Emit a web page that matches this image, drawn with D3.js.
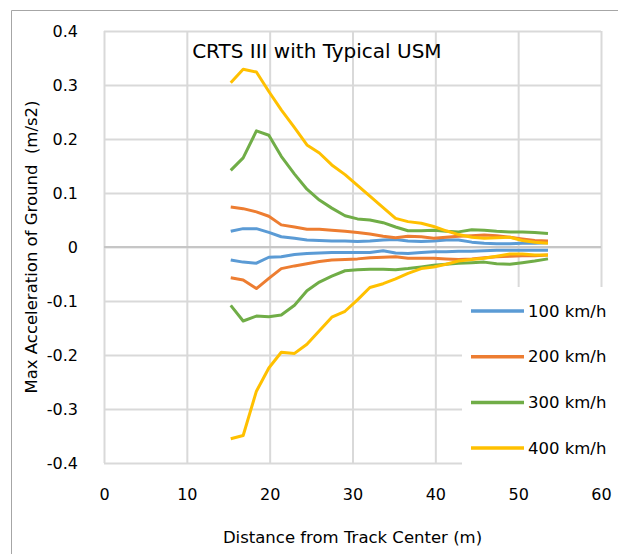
<!DOCTYPE html>
<html>
<head>
<meta charset="utf-8">
<script src="https://cdn.jsdelivr.net/npm/d3@7"></script>
<style>
  html, body { margin: 0; background: #fff; overflow: hidden; }
  svg { display: block; }
  text { font-family: "DejaVu Sans", sans-serif; fill: #000; }
</style>
</head>
<body>
<svg id="chart" width="618" height="554"></svg>
<script>
// distance from track center (m)
const distance = [15.3, 16.8, 18.4, 19.9, 21.4, 23.0, 24.5, 26.0, 27.5, 29.1, 30.6, 32.1, 33.7,
  35.2, 36.7, 38.3, 39.8, 41.3, 42.8, 44.4, 45.9, 47.4, 49.0, 50.5, 52.0, 53.6];

// each speed gives an upper (max) and lower (min) envelope
const v100Up = [0.029, 0.034, 0.034, 0.027, 0.019, 0.016, 0.013, 0.012, 0.011, 0.011, 0.010, 0.011, 0.013,
  0.014, 0.011, 0.010, 0.011, 0.013, 0.013, 0.009, 0.007, 0.006, 0.006, 0.007, 0.007, 0.008];
const v100Low = [-0.024, -0.028, -0.030, -0.019, -0.018, -0.014, -0.012, -0.011, -0.010, -0.010, -0.010, -0.010, -0.007,
  -0.011, -0.012, -0.010, -0.009, -0.009, -0.008, -0.008, -0.007, -0.006, -0.006, -0.006, -0.006, -0.006];
const v200Up = [0.074, 0.071, 0.065, 0.057, 0.041, 0.037, 0.033, 0.033, 0.031, 0.029, 0.027, 0.024, 0.020,
  0.017, 0.020, 0.019, 0.016, 0.018, 0.020, 0.021, 0.022, 0.021, 0.018, 0.015, 0.012, 0.011];
const v200Low = [-0.057, -0.061, -0.077, -0.058, -0.040, -0.035, -0.031, -0.027, -0.024, -0.023, -0.022, -0.020, -0.019,
  -0.018, -0.021, -0.021, -0.021, -0.022, -0.023, -0.022, -0.020, -0.018, -0.017, -0.016, -0.016, -0.015];
const v300Up = [0.142, 0.165, 0.215, 0.207, 0.168, 0.135, 0.107, 0.087, 0.072, 0.058, 0.052, 0.050, 0.045,
  0.037, 0.030, 0.030, 0.031, 0.029, 0.028, 0.032, 0.031, 0.029, 0.028, 0.028, 0.027, 0.025];
const v300Low = [-0.108, -0.137, -0.128, -0.129, -0.126, -0.108, -0.081, -0.065, -0.054, -0.044, -0.042, -0.041, -0.041,
  -0.042, -0.040, -0.037, -0.034, -0.032, -0.030, -0.029, -0.028, -0.031, -0.032, -0.029, -0.026, -0.022];
const v400Up = [0.304, 0.329, 0.324, 0.288, 0.254, 0.221, 0.189, 0.174, 0.152, 0.134, 0.114, 0.094, 0.073,
  0.053, 0.047, 0.044, 0.038, 0.030, 0.023, 0.018, 0.016, 0.017, 0.018, 0.012, 0.009, 0.007];
const v400Low = [-0.355, -0.349, -0.267, -0.224, -0.195, -0.197, -0.180, -0.155, -0.130, -0.119, -0.098, -0.075, -0.068,
  -0.059, -0.049, -0.040, -0.037, -0.032, -0.026, -0.023, -0.021, -0.017, -0.013, -0.013, -0.015, -0.015];

const speeds = ['100 km/h', '200 km/h', '300 km/h', '400 km/h'];
const colors = ['#5b9bd5', '#ed7d31', '#70ad47', '#ffc000'];
const xTicks = [0, 10, 20, 30, 40, 50, 60];
const yTicks = [-0.4, -0.3, -0.2, -0.1, 0, 0.1, 0.2, 0.3, 0.4];

const series = [
  { name: speeds[0], up: v100Up, low: v100Low },
  { name: speeds[1], up: v200Up, low: v200Low },
  { name: speeds[2], up: v300Up, low: v300Low },
  { name: speeds[3], up: v400Up, low: v400Low }
];

const svg = d3.select('#chart');
const margin = ({top: 31, right: 17, bottom: 91, left: 104});
const width = +svg.attr('width');
const height = +svg.attr('height');
const innerWidth = width - margin.left - margin.right;
const innerHeight = height - margin.top - margin.bottom;

// chart frame (right and bottom edges fall outside the picture)
svg.append('path')
  .attr('d', `M11.5,${height}V10.5H${width}`)
  .attr('fill', 'none')
  .attr('stroke', '#a6a6a6');

const x = d3.scaleLinear().domain([0, 60]).range([0, innerWidth]);
const y = d3.scaleLinear().domain([-0.4, 0.4]).range([innerHeight, 0]);
const color = d3.scaleOrdinal().domain(speeds).range(colors);

const g = svg.append('g')
  .attr('transform', `translate(${margin.left},${margin.top})`);

// gridlines + tick labels
const yAxisG = g.append('g')
  .call(d3.axisLeft(y).tickValues(yTicks).tickSize(-innerWidth).tickPadding(26)
    .tickFormat(d => String(d)));
yAxisG.select('.domain').remove();
yAxisG.selectAll('.tick line')
  .attr('stroke', '#d9d9d9')
  .attr('stroke-width', 2);
yAxisG.selectAll('.tick text').style('font-size', '16px');

const xAxisG = g.append('g')
  .attr('transform', `translate(0,${innerHeight})`)
  .call(d3.axisBottom(x).tickValues(xTicks).tickSize(-innerHeight).tickPadding(26));
xAxisG.select('.domain').remove();
xAxisG.selectAll('.tick line')
  .attr('stroke', '#d9d9d9')
  .attr('stroke-width', 2);
xAxisG.selectAll('.tick text').style('font-size', '16px');

// the zero line sits above the vertical grid
g.append('line')
  .attr('x1', 0).attr('x2', innerWidth)
  .attr('y1', y(0)).attr('y2', y(0))
  .attr('stroke', '#c6c6c6').attr('stroke-width', 2);

const line = d3.line()
  .x((d, i) => x(distance[i]))
  .y(d => y(d));

series.forEach(s => {
  [s.up, s.low].forEach(vals => {
    g.append('path')
      .datum(vals)
      .attr('d', line)
      .attr('fill', 'none')
      .attr('stroke', color(s.name))
      .attr('stroke-width', 3)
      .attr('stroke-linejoin', 'round');
  });
});

// title inside the plot
g.append('text')
  .attr('x', x(25.7))
  .attr('y', 27)
  .attr('text-anchor', 'middle')
  .style('font-size', '20px')
  .text('CRTS III with Typical USM');

// legend (white box over the grid)
const legend = svg.append('g').attr('transform', 'translate(462,287)');
legend.append('rect')
  .attr('width', 156).attr('height', 180)
  .attr('fill', '#fff');
speeds.forEach((s, i) => {
  const ly = 24 + i * 45.7;
  legend.append('line')
    .attr('x1', 9).attr('x2', 62)
    .attr('y1', ly).attr('y2', ly)
    .attr('stroke', color(s))
    .attr('stroke-width', 3.5);
  legend.append('text')
    .attr('x', 66).attr('y', ly)
    .attr('dy', '.35em')
    .style('font-size', '16.5px')
    .text(s);
});

// axis titles
svg.append('text')
  .attr('x', margin.left + x(30))
  .attr('y', 543)
  .attr('text-anchor', 'middle')
  .style('font-size', '16.5px')
  .text('Distance from Track Center (m)');

svg.append('text')
  .attr('transform', 'translate(37,247) rotate(-90)')
  .attr('text-anchor', 'middle')
  .style('font-size', '16.5px')
  .style('white-space', 'pre')
  .text('Max Acceleration of Ground  (m/s2)');
</script>
</body>
</html>
